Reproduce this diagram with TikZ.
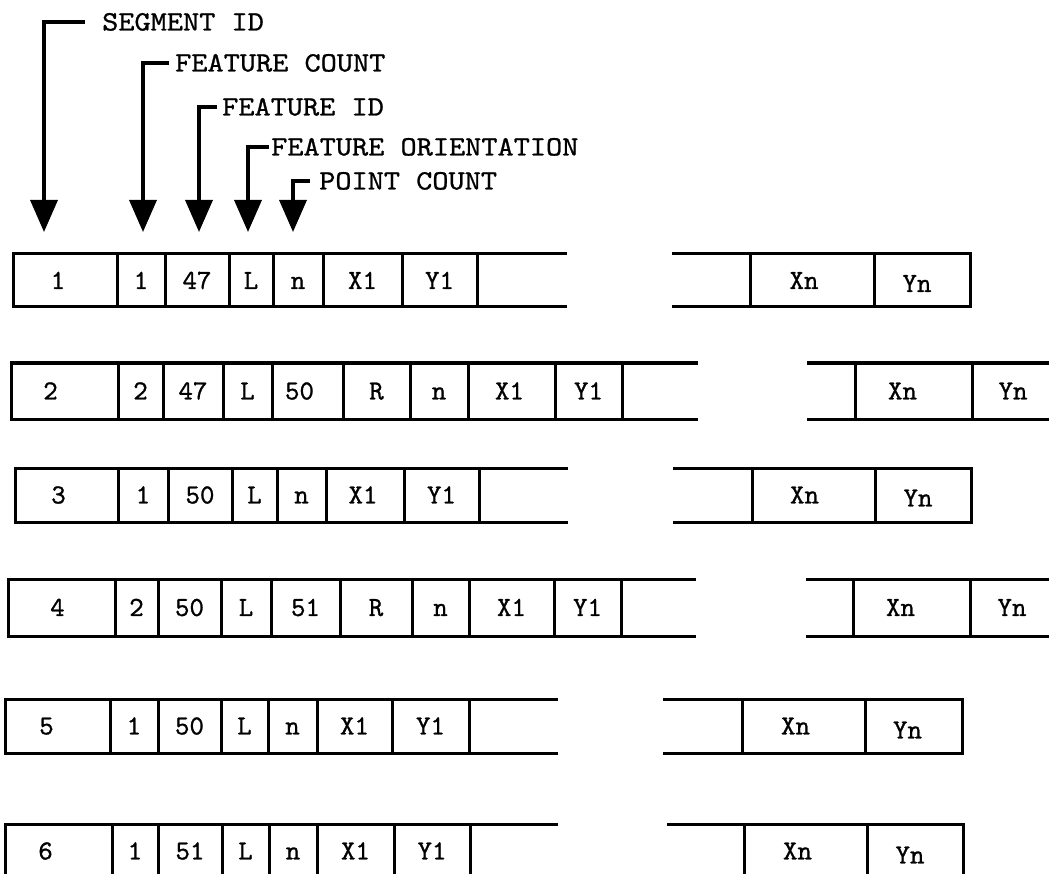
\documentclass[tikz,border=0pt]{standalone}
\usepackage{fontspec}
\newfontfamily\typew[FakeBold=0.9]{lmmono10-regular.otf}
\newfontfamily\typewn[FakeBold=0.9,FakeStretch=1.1]{lmmono10-regular.otf}
\usetikzlibrary{arrows.meta}
\tikzset{
  cellbox/.style={draw, line width=3pt, inner sep=0pt, outer sep=0pt},
  celltext/.style={inner sep=0pt, font={\typew\fontsize{27.6}{27.6}\selectfont}, text height=16.9pt, text depth=0pt},
  opencell/.style={inner sep=0pt, outer sep=0pt},
  edge/.style={line width=3pt},
  arr/.style={line width=3.5pt, -{Triangle[length=32pt,width=27pt]}},
  note/.style={anchor=west, inner sep=0pt, font={\typewn\fontsize{28}{28}\selectfont}, text height=17pt, text depth=0pt}
}
\newcommand\recrow[4]{%
  \foreach \a/\b/\t/\dx/\dy [count=\i] in {#4} {
    \pgfmathsetmacro\w{\b-\a}
    \pgfmathsetmacro\h{#3-#2}
    \node[cellbox, minimum width=\w pt, minimum height=\h pt] (#1c\i) at ({(\a+\b)/2},{(#2+#3)/2}) {};
    \node[celltext] (#1t\i) at ([xshift={(\dx)*1pt}, yshift={-(\dy)*1pt}]#1c\i.center) {\t};
  }
}
\newcommand\openrow[4]{%
  \foreach \a/\b [count=\i] in {#4} {
    \pgfmathsetmacro\w{\b-\a}
    \pgfmathsetmacro\h{#3-#2}
    \node[opencell, minimum width=\w pt, minimum height=\h pt] (#1o\i) at ({(\a+\b)/2},{(#2+#3)/2}) {};
    \draw[edge] (#1o\i.north west) -- (#1o\i.north east) (#1o\i.south west) -- (#1o\i.south east);
  }
}
\begin{document}
\begin{tikzpicture}[x=1pt,y=-1pt]
\useasboundingbox (0,0) rectangle (1049,874);
\clip (0,0) rectangle (1049,874);
\fill[white] (0,0) rectangle (1049,874);

% annotations
\node[note] (segid) at (102,22) {SEGMENT ID};
\node[note] (fcount) at (175,63) {FEATURE COUNT};
\node[note] (fid) at (222,107) {FEATURE ID};
\node[note] (forient) at (271,147) {FEATURE ORIENTATION};
\node[note] (pcount) at (319,181) {POINT COUNT};
\coordinate (t1) at (44,232);
\coordinate (t2) at (143,232);
\coordinate (t3) at (199,232);
\coordinate (t4) at (248,232);
\coordinate (t5) at (293,232);
\draw[arr] ([xshift=-17pt]segid.west) -| (t1);
\draw[arr] ([xshift=-6pt]fcount.west) -| (t2);
\draw[arr] ([xshift=-5pt]fid.west) -| (t3);
\draw[arr] ([xshift=-2pt]forient.west) -| (t4);
\draw[arr] ([xshift=-9pt]pcount.west) -| (t5);

% row 1
\recrow{ra}{254}{307}{13/117/1/-7/0, 117/165/1/0/0, 165/229/47/0/0, 229/273/L/0/0, 273/323/n/0/0, 323/402/X1/0/0, 402/477/Y1/0/0, 750/874/Xn/-8/0, 874/970/Yn/-5/3}
\openrow{ra}{254}{307}{477/567, 672/750}
% row 2
\recrow{rb}{363}{419}{11/118/2/-14/0, 118/163/2/0/0, 163/223/47/0/0, 223/272/L/0/0, 272/343/50/-8/0, 343/410/R/0/0, 410/468/n/0/0, 468/555/X1/-2/0, 555/622/Y1/0/0, 855/972/Xn/-11/0, 972/1054/Yn/0/0}
\openrow{rb}{363}{419}{622/698, 807/855}
% row 3
\recrow{rc}{468}{522}{15/118/3/-8/0, 118/168/1/0/0, 168/232/50/0/0, 232/277/L/0/0, 277/326/n/0/0, 326/404/X1/-2/0, 404/479/Y1/0/0, 752/875/Xn/-9/0, 875/971/Yn/-5/3}
\openrow{rc}{468}{522}{479/568, 673/752}
% row 4
\recrow{rd}{579}{636}{8/115/4/-4/0, 115/158/2/0/0, 158/221/50/0/0, 221/271/L/0/0, 271/340/51/0/0, 340/412/R/0/0, 412/469/n/0/0, 469/554/X1/0/0, 554/621/Y1/0/0, 853/970/Xn/-11/0, 970/1054/Yn/0/0}
\openrow{rd}{579}{636}{621/696, 806/853}
% row 5
\recrow{re}{699}{753}{5/110/5/-11/0, 110/158/1/0/0, 158/221/50/0/0, 221/268/L/0/0, 268/317/n/0/0, 317/392/X1/0/0, 392/469/Y1/0/0, 742/865/Xn/-8/0, 865/962/Yn/-6/4}
\openrow{re}{699}{753}{469/558, 663/742}
% row 6
\recrow{rf}{824}{878}{5/112/6/-13/0, 112/158/1/0/0, 158/222/51/0/0, 222/269/L/0/0, 269/317/n/0/0, 317/394/X1/0/0, 394/470/Y1/0/0, 744/867/Xn/-8/0, 867/963/Yn/-5/4}
\openrow{rf}{824}{878}{470/558, 667/744}
\end{tikzpicture}
\end{document}
